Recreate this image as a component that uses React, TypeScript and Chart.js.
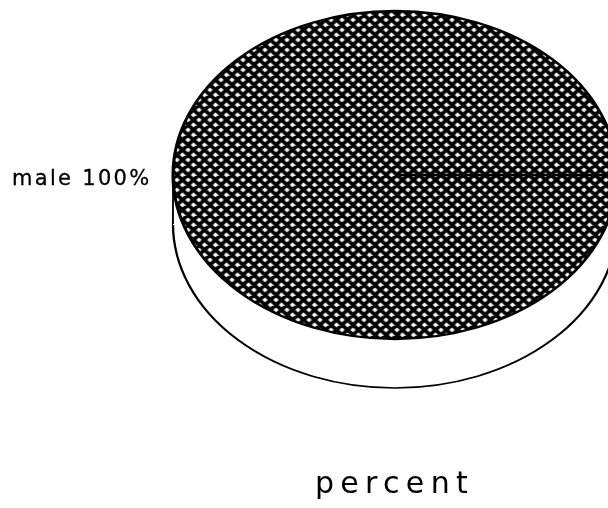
import React, { useEffect, useRef } from "react";
import { Chart, registerables } from "chart.js";

Chart.register(...registerables);

// ---- data ----
const categories: string[] = ["male"];
const values: number[] = [100];
const axisTitle = "percent";

// ---- layout (final pixel geometry of the tilted pie) ----
const PIE_CX = 395;
const PIE_CY = 175;
const PIE_RX = 222;
const PIE_RY = 164;
const PIE_DEPTH = 49;

function makePattern(): CanvasPattern | string {
  const W = 11;
  const H = 10;
  const tile = document.createElement("canvas");
  tile.width = W;
  tile.height = H;
  const t = tile.getContext("2d");
  if (!t) return "#333";
  t.fillStyle = "#ffffff";
  t.fillRect(0, 0, W, H);
  t.strokeStyle = "#000000";
  t.lineWidth = 3.8;
  t.beginPath();
  for (const ox of [-W, 0, W]) {
    for (const oy of [-H, 0, H]) {
      t.moveTo(ox, oy);
      t.lineTo(ox + W, oy + H);
      t.moveTo(ox + W, oy);
      t.lineTo(ox, oy + H);
    }
  }
  t.stroke();
  const p = t.createPattern(tile, "repeat");
  return p || "#333";
}

export default function App() {
  const canvasRef = useRef<HTMLCanvasElement | null>(null);

  useEffect(() => {
    const canvas = canvasRef.current;
    if (!canvas) return;
    const pattern = makePattern();
    const total = values.reduce((a, b) => a + b, 0);

    const pie3d = {
      id: "pie3d",
      beforeDatasetsDraw(chart: any) {
        const el = chart.getDatasetMeta(0).data[0] as any;
        if (!el) return;
        const { x, y, outerRadius: R } = el;
        const ctx: CanvasRenderingContext2D = chart.ctx;
        const kx = PIE_RX / R;
        const ky = PIE_RY / R;
        if (typeof pattern !== "string" && (pattern as any).setTransform) {
          pattern.setTransform(new DOMMatrix([1 / kx, 0, 0, 1 / ky, 0, 0]));
        }
        // bottom face (drawn by the arc element, in white)
        ctx.save();
        ctx.translate(PIE_CX, PIE_CY + PIE_DEPTH);
        ctx.scale(kx, ky);
        ctx.translate(-x, -y);
        const bottom = Object.create(el);
        bottom.options = { ...el.options, backgroundColor: "#ffffff", borderWidth: 2.6 };
        bottom.draw(ctx);
        ctx.restore();
        // side band
        ctx.save();
        ctx.fillStyle = "#ffffff";
        ctx.fillRect(PIE_CX - PIE_RX, PIE_CY, 2 * PIE_RX, PIE_DEPTH + 1);
        ctx.strokeStyle = "#000000";
        ctx.lineWidth = 1.8;
        ctx.beginPath();
        ctx.moveTo(PIE_CX - PIE_RX, PIE_CY);
        ctx.lineTo(PIE_CX - PIE_RX, PIE_CY + PIE_DEPTH);
        ctx.moveTo(PIE_CX + PIE_RX, PIE_CY);
        ctx.lineTo(PIE_CX + PIE_RX, PIE_CY + PIE_DEPTH);
        ctx.stroke();
        ctx.restore();
        // top face transform (restored after datasets draw)
        ctx.save();
        ctx.translate(PIE_CX, PIE_CY);
        ctx.scale(kx, ky);
        ctx.translate(-x, -y);
      },
      afterDatasetsDraw(chart: any) {
        const el = chart.getDatasetMeta(0).data[0];
        if (!el) return;
        chart.ctx.restore();
      },
      afterDraw(chart: any) {
        const ctx: CanvasRenderingContext2D = chart.ctx;
        ctx.save();
        ctx.fillStyle = "#000000";
        ctx.strokeStyle = "#000000";
        ctx.textAlign = "left";
        ctx.textBaseline = "alphabetic";
        (ctx as any).letterSpacing = "2.3px";
        ctx.font = '21px "DejaVu Sans"';
        ctx.lineWidth = 0.3;
        const pct = Math.round((values[0] / total) * 100);
        const label = `${categories[0]} ${pct}%`;
        ctx.fillText(label, 12, 185);
        ctx.strokeText(label, 12, 185);
        (ctx as any).letterSpacing = "6.3px";
        ctx.font = '30px "DejaVu Sans"';
        ctx.fillText(axisTitle, 315, 493);
        ctx.restore();
      },
    };

    const chart = new Chart(canvas, {
      type: "pie",
      data: {
        labels: categories,
        datasets: [
          {
            data: values,
            backgroundColor: pattern as any,
            borderColor: "#000000",
            borderWidth: 3.5,
            hoverOffset: 0,
            clip: false as any,
          },
        ],
      },
      options: {
        animation: false,
        responsive: true,
        maintainAspectRatio: false,
        rotation: 90,
        events: [],
        layout: { padding: 0 },
        plugins: {
          legend: { display: false },
          tooltip: { enabled: false },
          title: { display: false },
        },
      },
      plugins: [pie3d],
    });

    return () => chart.destroy();
  }, []);

  return (
    <div
      style={{
        position: "fixed",
        left: 0,
        top: 0,
        width: 608,
        height: 508,
        background: "#ffffff",
        overflow: "hidden",
      }}
    >
      <canvas ref={canvasRef} />
    </div>
  );
}
